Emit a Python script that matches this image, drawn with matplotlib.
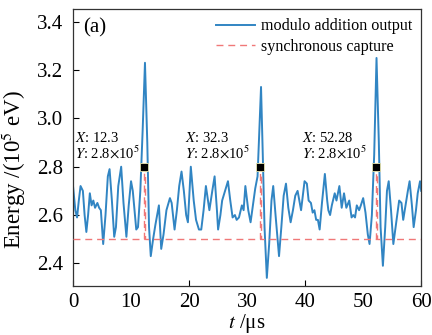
import matplotlib
matplotlib.use('Agg')
import matplotlib.pyplot as plt

plt.rcParams['font.family'] = ['Liberation Serif', 'DejaVu Serif']
plt.rcParams['mathtext.fontset'] = 'stix'

# modulo addition output
t = [0.0, 0.4, 0.7, 1.0, 1.3, 1.7, 2.0, 2.3, 2.6, 2.9, 3.2, 3.5, 3.8, 4.2, 4.5, 4.8,
     5.2, 5.6, 6.0, 6.3, 6.7, 7.1, 7.4, 7.8, 8.3, 8.7, 9.2, 9.6, 10.0, 10.3, 10.9,
     11.2, 11.6, 12.0, 12.4, 12.8, 13.1, 13.4, 13.8, 14.2, 14.8, 15.2, 15.6, 16.1,
     16.7, 17.0, 17.5, 17.9, 18.3, 18.7, 19.1, 19.5, 19.8, 20.3, 20.8, 21.2, 21.7,
     22.1, 22.5, 22.9, 23.5, 24.0, 24.4, 24.8, 25.0, 25.4, 25.7, 26.2, 26.7, 27.1,
     27.5, 27.9, 28.2, 28.6, 29.1, 29.4, 29.7, 30.2, 30.6, 31.0, 31.4, 31.8, 32.1,
     32.4, 32.7, 33.0, 33.4, 33.8, 34.2, 34.5, 34.9, 35.5, 35.9, 36.3, 36.7, 37.1,
     37.5, 37.9, 38.3, 38.7, 39.3, 39.9, 40.3, 40.6, 41.0, 41.3, 41.6, 41.9, 42.2,
     42.5, 42.9, 43.4, 43.8, 44.0, 44.3, 44.6, 45.1, 45.4, 45.9, 46.3, 46.7, 47.1,
     47.6, 48.0, 48.3, 48.6, 48.9, 49.3, 49.6, 50.0, 50.4, 50.8, 51.1, 51.5, 51.9,
     52.3, 52.7, 53.0, 53.4, 53.8, 54.1, 54.4, 54.8, 55.2, 55.7, 56.2, 56.6, 56.9,
     57.3, 57.7, 58.0, 58.4, 58.7, 59.1, 59.4, 59.8, 60.0]
energy = [2.72, 2.62, 2.59, 2.66, 2.72, 2.70, 2.60, 2.53, 2.60, 2.69, 2.64, 2.66, 2.63,
          2.65, 2.63, 2.62, 2.48, 2.60, 2.76, 2.79, 2.66, 2.51, 2.55, 2.72, 2.80, 2.65,
          2.51, 2.64, 2.74, 2.70, 2.54, 2.55, 2.70, 2.95, 3.23, 2.90, 2.55, 2.43, 2.50,
          2.56, 2.64, 2.46, 2.52, 2.62, 2.67, 2.65, 2.54, 2.62, 2.72, 2.78, 2.70, 2.60,
          2.57, 2.80, 2.66, 2.58, 2.54, 2.54, 2.62, 2.72, 2.62, 2.70, 2.76, 2.62, 2.54,
          2.60, 2.66, 2.70, 2.74, 2.66, 2.59, 2.60, 2.58, 2.59, 2.64, 2.62, 2.72, 2.62,
          2.57, 2.64, 2.71, 2.76, 2.95, 3.13, 2.85, 2.55, 2.34, 2.48, 2.66, 2.72, 2.60,
          2.43, 2.55, 2.68, 2.73, 2.63, 2.57, 2.62, 2.68, 2.70, 2.62, 2.74, 2.73, 2.66,
          2.65, 2.61, 2.62, 2.58, 2.58, 2.54, 2.65, 2.77, 2.66, 2.62, 2.60, 2.64, 2.69,
          2.66, 2.72, 2.63, 2.69, 2.63, 2.66, 2.59, 2.60, 2.59, 2.64, 2.62, 2.64, 2.67,
          2.61, 2.52, 2.48, 2.60, 2.85, 3.25, 2.90, 2.55, 2.39, 2.55, 2.70, 2.74, 2.62,
          2.48, 2.57, 2.66, 2.65, 2.58, 2.64, 2.70, 2.74, 2.64, 2.55, 2.62, 2.69, 2.74,
          2.70]

# synchronous capture pulses
cap_t = [0, 12.2, 12.2, 12.4, 12.4, 32.2, 32.2, 32.4, 32.4, 52.2, 52.2, 52.4, 52.4, 60]
cap_e = [2.5, 2.5, 2.8, 2.8, 2.5, 2.5, 2.8, 2.8, 2.5, 2.5, 2.8, 2.8, 2.5, 2.5]

# data tips
tip_x = [12.3, 32.3, 52.28]
tip_y = [2.8, 2.8, 2.8]
tip_text_x = [0.3, 19.3, 39.5]
tip_labels = ['12.3', '32.3', '52.28']

fig = plt.figure(figsize=(4.32, 3.35), dpi=100)
ax = fig.add_axes([0.169, 0.146, 0.806, 0.826])

ax.plot(t, energy, color='#3185c3', lw=1.4, label='modulo addition output', zorder=2)
ax.plot(cap_t, cap_e, color='#f07878', lw=1.0, dashes=(5, 3.5),
        label='synchronous capture', zorder=3)
ax.plot(tip_x, tip_y, 's', color='black', markersize=6, markeredgecolor='#e8e6b0',
        markeredgewidth=0.6, zorder=4)

for tx, lab in zip(tip_text_x, tip_labels):
    ax.text(tx, 2.918, '$X$: ' + lab, fontsize=10.5, va='center', ha='left')
    ax.text(tx, 2.856, r'$Y$: 2.8$\times$10$^5$', fontsize=10.5, va='center', ha='left')

ax.text(1.8, 3.375, '(a)', fontsize=15, va='center', ha='left')

ax.set_xlim(0, 60)
ax.set_ylim(2.306, 3.451)
ax.set_xticks(range(0, 61, 10))
ax.set_yticks([2.4, 2.6, 2.8, 3.0, 3.2, 3.4])
ax.set_yticklabels(['2.4', '2.6', '2.8', '3.0', '3.2', '3.4'])
ax.tick_params(direction='in', labelsize=15, length=4, width=0.8)
ax.tick_params(axis='y', pad=7)
ax.tick_params(axis='x', pad=5)
for tick, val in zip(ax.xaxis.get_major_ticks(), range(0, 61, 10)):
    if val % 20 != 0:
        tick.tick1line.set_visible(False)

for s in ax.spines.values():
    s.set_color('#333333')
    s.set_linewidth(0.9)

ax.set_xlabel(r'$t$ /μs', fontsize=15, labelpad=0)
ax.set_ylabel(r'Energy /(10$^5$ eV)', fontsize=16.5)
ax.yaxis.set_label_coords(-0.128, 0.423)

ax.legend(loc='upper right', frameon=False, fontsize=11.6, handlelength=2.4,
          borderaxespad=0.15, labelspacing=0.3, handletextpad=0.4)

plt.savefig('out.png', dpi=100)
